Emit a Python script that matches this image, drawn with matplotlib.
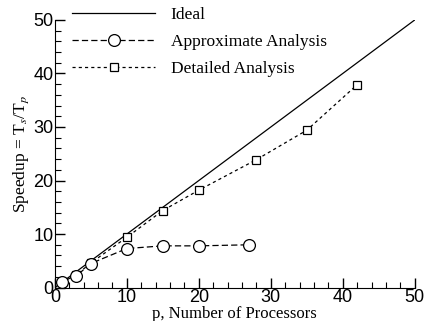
import matplotlib
matplotlib.use("Agg")
import matplotlib.pyplot as plt
from matplotlib.ticker import MultipleLocator

# data
ideal_p = [0, 50]
ideal_s = [0, 50]
approx_p = [1, 3, 5, 10, 15, 20, 27]
approx_s = [1.0, 2.2, 4.5, 7.3, 7.8, 7.8, 8.0]
detail_p = [1, 3, 5, 10, 15, 20, 28, 35, 42]
detail_s = [1.0, 2.4, 4.6, 9.4, 14.4, 18.2, 23.9, 29.4, 37.9]

plt.rcParams['mathtext.fontset'] = 'stix'

fig = plt.figure(figsize=(4.25, 3.21), dpi=100)
ax = fig.add_axes([0.129, 0.104, 0.847, 0.834])

serif = ['Liberation Serif', 'DejaVu Serif']

ax.plot(ideal_p, ideal_s, color='black', lw=0.9, label='Ideal', zorder=2)
ax.plot(approx_p, approx_s, color='black', lw=0.9, ls=(0, (5, 2.5)),
        marker='o', ms=8.5, mfc='white', mec='black', mew=0.9,
        label='Approximate Analysis', zorder=4)
ax.plot(detail_p, detail_s, color='black', lw=0.9, ls=(0, (2.5, 2.5)),
        marker='s', ms=6, mfc='white', mec='black', mew=0.9,
        label='Detailed Analysis', zorder=3)

ax.set_xlim(0, 50)
ax.set_ylim(0, 50)
ax.xaxis.set_major_locator(MultipleLocator(10))
ax.xaxis.set_minor_locator(MultipleLocator(2))
ax.yaxis.set_major_locator(MultipleLocator(10))
ax.yaxis.set_minor_locator(MultipleLocator(2))
ax.tick_params(which='both', direction='in', top=False, right=False)
ax.tick_params(which='major', length=7, width=1)
ax.tick_params(which='minor', length=4, width=0.8)
for lab in ax.get_xticklabels() + ax.get_yticklabels():
    lab.set_family(['Liberation Sans', 'DejaVu Sans'])
    lab.set_fontsize(13)
ax.tick_params(axis='x', pad=1)
ax.tick_params(axis='y', pad=1)

ax.spines['top'].set_visible(False)
ax.spines['right'].set_visible(False)

ax.set_xlabel('p, Number of Processors', family=serif, fontsize=12, labelpad=0)
ax.set_ylabel(r'Speedup = T$_s$/T$_p$', family=serif, fontsize=12.5, labelpad=2)

leg = ax.legend(loc='upper left', frameon=False, handlelength=4.8,
                prop={'family': serif, 'size': 12.5}, labelspacing=0.62,
                borderaxespad=0, bbox_to_anchor=(0.028, 1.075), handletextpad=0.9)

fig.savefig('out.png', dpi=100)
